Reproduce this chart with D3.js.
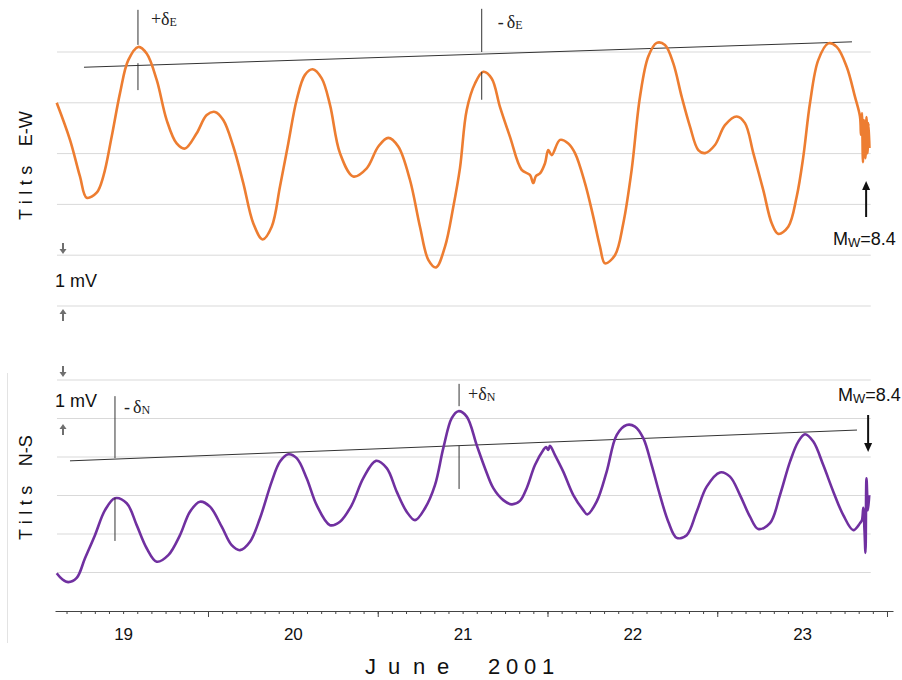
<!DOCTYPE html>
<html>
<head>
<meta charset="utf-8">
<script src="https://cdn.jsdelivr.net/npm/d3@7"></script>
<style>
    body { margin: 0; background: #fff; }
    svg { display: block; font-family: Arial, "Liberation Sans", sans-serif; }
</style>
</head>
<body>
<div id="chart"></div>
<script>
// Time in hours from 19 June 2001 00:00, tilt values in mV
const ewHours = [2.61, 4.49, 5.90, 6.85, 8.26, 9.20, 10.38, 11.56, 12.73, 14.15, 15.33, 16.75, 18.16, 19.57, 20.75,
    22.40, 23.82, 24.99, 26.16, 27.58, 28.99, 30.40, 31.73, 33.01, 34.18, 35.35, 36.54, 37.71, 38.80, 40.08,
    41.25, 42.66, 44.54, 46.44, 48.08, 49.49, 50.90, 52.56, 53.97, 55.15, 56.24, 57.51, 58.68, 59.63, 60.58,
    61.75, 62.92, 64.11, 65.28, 66.70, 68.35, 69.52, 69.99, 70.37, 70.94, 71.65, 72.11, 72.59, 73.77, 74.94,
    75.89, 77.30, 78.47, 79.42, 80.13, 81.54, 82.72, 83.90, 85.08, 86.25, 87.44, 88.61, 89.78, 90.97, 92.15,
    93.32, 94.27, 95.68, 97.09, 98.75, 99.92, 101.10, 102.51, 103.70, 104.63, 106.04, 107.23, 108.17, 109.11,
    110.28, 111.70, 112.89, 114.30, 115.47, 116.18, 116.32, 116.46, 116.60, 116.74, 116.96, 117.10, 117.24,
    117.38, 117.52];
const ewValues = [4.00, 3.27, 2.55, 2.13, 2.23, 2.55, 3.33, 4.19, 4.84, 5.10, 4.97, 4.45, 3.66, 3.20, 3.10,
    3.40, 3.76, 3.82, 3.66, 3.14, 2.42, 1.63, 1.31, 1.56, 2.35, 3.20, 4.06, 4.55, 4.66, 4.48,
    3.96, 3.01, 2.55, 2.71, 3.14, 3.31, 3.14, 2.48, 1.56, 0.91, 0.76, 1.17, 1.95, 2.72, 3.86,
    4.38, 4.61, 4.48, 3.92, 3.33, 2.68, 2.58, 2.42, 2.56, 2.61, 2.81, 3.07, 2.97, 3.27, 3.20,
    3.01, 2.42, 1.76, 1.17, 0.84, 1.00, 1.63, 2.68, 4.12, 4.91, 5.18, 5.14, 4.78, 4.12, 3.53,
    3.07, 3.01, 3.17, 3.56, 3.73, 3.60, 3.01, 2.28, 1.63, 1.42, 1.56, 2.15, 2.94, 3.99,
    4.84, 5.17, 5.10, 4.71, 4.12, 3.73, 3.37, 3.80, 2.83, 3.66, 2.91, 3.72, 3.01,
    3.60, 3.11];

const nsHours = [2.61, 3.36, 4.25, 5.44, 6.61, 8.02, 9.44, 10.85, 12.51, 13.92, 15.33, 16.75, 18.39, 20.04, 21.45,
    22.87, 24.28, 25.94, 27.35, 28.52, 29.94, 31.35, 33.01, 34.18, 35.35, 36.54, 37.95, 39.37, 41.25, 42.66,
    44.32, 45.96, 47.75, 49.27, 50.68, 52.09, 53.27, 54.68, 56.09, 57.27, 58.46, 59.39, 60.58, 61.99, 63.16,
    64.34, 65.75, 66.94, 68.11, 69.06, 70.23, 71.41, 71.79, 72.11, 72.35, 73.06, 74.23, 75.65, 77.06, 77.62,
    78.95, 80.37, 81.78, 83.19, 84.37, 85.54, 86.73, 87.90, 89.08, 90.27, 91.68, 93.09, 94.51, 96.39, 97.80,
    99.22, 100.63, 101.80, 103.46, 104.87, 106.29, 107.46, 108.41, 109.58, 110.99, 112.41, 113.82, 115.23,
    116.18, 116.46, 116.65, 116.82, 116.96, 117.10, 117.31, 117.49];
const nsValues = [0.98, 0.83, 0.75, 0.86, 1.37, 1.97, 2.62, 2.93, 2.80, 2.23, 1.63, 1.28, 1.45, 1.97, 2.58,
    2.84, 2.71, 2.19, 1.71, 1.58, 1.80, 2.41, 3.36, 3.88, 4.07, 3.97, 3.45, 2.75, 2.23, 2.32,
    2.75, 3.45, 3.90, 3.71, 3.10, 2.58, 2.36, 2.67, 3.27, 4.23, 5.01, 5.19, 5.05, 4.31, 3.71,
    3.19, 2.88, 2.77, 2.86, 3.19, 3.79, 4.18, 4.26, 4.18, 4.29, 4.05, 3.62, 3.01, 2.62, 2.51,
    2.84, 3.62, 4.57, 4.83, 4.79, 4.49, 3.79, 3.01, 2.32, 1.90, 1.97, 2.58, 3.23, 3.60, 3.49,
    3.01, 2.45, 2.13, 2.28, 3.01, 3.88, 4.40, 4.59, 4.40, 3.79, 3.10, 2.49, 2.10,
    2.28, 2.36, 2.68, 2.10, 1.51, 3.45, 2.62, 3.01];

// Axis ticks and labels
const dayLabels = ["19", "20", "21", "22", "23"];
const dayNoons = [12, 36, 60, 84, 108];
const dayBreaks = [24, 48, 72, 96, 120];
const minorTicks = d3.range(4, 121, 2);
const titleChars = ["J", "u", "n", "e", "2", "0", "0", "1"];

// Gridline levels (mV) for each panel
const ewGrid = [0, 1, 2, 3, 4, 5];
const nsGrid = [1, 2, 3, 4, 5, 6];

// Envelope lines: [hour, mV] at each end
const ewTrend = [[6.47, 4.70], [115.05, 5.20]];
const nsTrend = [[4.49, 3.90], [115.76, 4.70]];

// delta markers: hour, upper segment, lower segment (mV)
const ewMarkers = [
    { hour: 14.1, upper: [5.83, 5.14], lower: [4.78, 4.25], sign: "+", sub: "E" },
    { hour: 62.7, upper: [5.85, 5.00], lower: [4.61, 4.06], sign: "-", sub: "E" }
];
const nsMarkers = [
    { hour: 10.85, upper: [5.58, 3.97], lower: [2.94, 1.82], sign: "-", sub: "N" },
    { hour: 59.5, upper: [5.90, 5.32], lower: [4.29, 3.17], sign: "+", sub: "N" }
];

const quakeHour = 117.05;

const width = 902, height = 680;
const svg = d3.select("#chart").append("svg")
    .attr("width", width)
    .attr("height", height);

const x = d3.scaleLinear().domain([2.37, 120.85]).range([55, 893]);
const yEW = d3.scaleLinear().domain([0, 5]).range([306, 52]);
const yNS = d3.scaleLinear().domain([0, 6]).range([611, 380]);
const gridSpan = [2.65, 117.7];

function drawPanel(hours, values, y, grid, color, trend) {
    // Gridlines
    svg.append("g").selectAll("line")
        .data(grid)
        .enter()
        .append("line")
        .attr("x1", x(gridSpan[0]))
        .attr("x2", x(gridSpan[1]))
        .attr("y1", d => y(d))
        .attr("y2", d => y(d))
        .attr("stroke", "#d9d9d9")
        .attr("stroke-width", 1);

    // Envelope line
    svg.append("line")
        .attr("x1", x(trend[0][0])).attr("y1", y(trend[0][1]))
        .attr("x2", x(trend[1][0])).attr("y2", y(trend[1][1]))
        .attr("stroke", "#333")
        .attr("stroke-width", 1);

    // Tilt record
    const line = d3.line()
        .x((d, i) => x(hours[i]))
        .y(d => y(d))
        .curve(d3.curveCatmullRom.alpha(0.5));

    svg.append("path")
        .datum(values)
        .attr("fill", "none")
        .attr("stroke", color)
        .attr("stroke-width", 2.6)
        .attr("stroke-linejoin", "round")
        .attr("d", line);
}

function drawMarkers(markers, y, labelAt) {
    markers.forEach((m, i) => {
        [m.upper, m.lower].forEach(seg => {
            svg.append("line")
                .attr("x1", x(m.hour)).attr("x2", x(m.hour))
                .attr("y1", y(seg[0])).attr("y2", y(seg[1]))
                .attr("stroke", "#333")
                .attr("stroke-width", 1);
        });
        const t = svg.append("text")
            .attr("x", x(m.hour) + labelAt[i][0])
            .attr("y", labelAt[i][1])
            .attr("font-family", "'Liberation Serif', 'DejaVu Serif', serif")
            .attr("font-size", 18)
            .attr("fill", "#222");
        t.append("tspan").text(m.sign);
        t.append("tspan").attr("dx", m.sign === "-" ? 3 : 0).text("δ");
        t.append("tspan").attr("font-size", 12).attr("dy", 1).text(m.sub);
    });
}

// small grey arrow used for the 1 mV scale bars
function smallArrow(xp, yTail, yTip) {
    const dir = yTip > yTail ? 1 : -1;
    svg.append("line")
        .attr("x1", xp).attr("x2", xp)
        .attr("y1", yTail).attr("y2", yTip - dir * 3)
        .attr("stroke", "#6f6f6f").attr("stroke-width", 2);
    svg.append("path")
        .attr("d", `M${xp - 3.5},${yTip - dir * 5} L${xp + 3.5},${yTip - dir * 5} L${xp},${yTip} Z`)
        .attr("fill", "#6f6f6f");
}

function quakeArrow(xp, yTail, yTip) {
    const dir = yTip > yTail ? 1 : -1;
    svg.append("line")
        .attr("x1", xp).attr("x2", xp)
        .attr("y1", yTail).attr("y2", yTip - dir * 6)
        .attr("stroke", "#111").attr("stroke-width", 2);
    svg.append("path")
        .attr("d", `M${xp - 4},${yTip - dir * 9} L${xp + 4},${yTip - dir * 9} L${xp},${yTip} Z`)
        .attr("fill", "#111");
}

function mwLabel(xp, yp) {
    const t = svg.append("text")
        .attr("x", xp).attr("y", yp)
        .attr("font-size", 18)
        .attr("fill", "#111");
    t.append("tspan").text("M");
    t.append("tspan").attr("font-size", 13).attr("dy", 2).text("W");
    t.append("tspan").attr("dy", -2).text("=8.4");
}

function mvLabel(yp) {
    svg.append("text")
        .attr("x", 55).attr("y", yp)
        .attr("font-size", 18)
        .attr("fill", "#111")
        .text("1 mV");
}

function sideLabel(xp, yp, word) {
    const t = svg.append("text")
        .attr("transform", `translate(${xp},${yp}) rotate(-90)`)
        .attr("font-size", 18)
        .attr("fill", "#111");
    t.append("tspan").attr("letter-spacing", 5.5).text("Tilts");
    t.append("tspan").attr("dx", 14).text(word);
}

// faint frame line on the left of the lower panel
svg.append("line")
    .attr("x1", 7.5).attr("x2", 7.5)
    .attr("y1", 373).attr("y2", 643)
    .attr("stroke", "#e3e3e3").attr("stroke-width", 1);

drawPanel(ewHours, ewValues, yEW, ewGrid, "#ED7D31", ewTrend);
drawPanel(nsHours, nsValues, yNS, nsGrid, "#7030A0", nsTrend);

drawMarkers(ewMarkers, yEW, [[13, 25], [16, 28]]);
drawMarkers(nsMarkers, yNS, [[9, 413], [9, 400]]);

// X axis: minor ticks every 2 h, longer ticks at midnight, day labels at noon
const axisY = yNS(0);
svg.append("g")
    .attr("transform", `translate(0,${axisY})`)
    .call(d3.axisBottom(x).tickValues(minorTicks).tickSize(3).tickSizeOuter(0).tickFormat(""))
    .call(g => g.selectAll(".domain, .tick line").attr("stroke", "#444"));

svg.append("g")
    .attr("transform", `translate(0,${axisY})`)
    .call(d3.axisBottom(x).tickValues(dayBreaks).tickSize(6).tickSizeOuter(0).tickFormat(""))
    .call(g => g.select(".domain").remove())
    .call(g => g.selectAll(".tick line").attr("stroke", "#444"));

svg.append("g")
    .attr("transform", `translate(0,${axisY})`)
    .call(d3.axisBottom(x).tickValues(dayNoons).tickSize(0).tickPadding(17)
        .tickFormat((d, i) => dayLabels[i]))
    .call(g => g.select(".domain").remove())
    .call(g => g.selectAll("text")
        .attr("font-family", "Arial, 'Liberation Sans', sans-serif")
        .attr("font-size", 17)
        .attr("fill", "#111"));

// Axis title, spaced out letter by letter
const titlePos = [365, 388, 413, 437, 488, 506, 524, 542];
svg.append("text")
    .attr("y", 674)
    .attr("font-size", 22)
    .attr("fill", "#111")
    .selectAll("tspan")
    .data(titleChars)
    .enter()
    .append("tspan")
    .attr("x", (d, i) => titlePos[i])
    .text(d => d);

sideLabel(32, 220, "E-W");
sideLabel(32, 540, "N-S");

// 1 mV scale bars
smallArrow(63, 243, 254);
smallArrow(63, 321, 309);
mvLabel(287);
smallArrow(63, 366, 377);
smallArrow(63, 435, 424);
mvLabel(407);

// Earthquake arrows
quakeArrow(x(quakeHour), 217, 181);
mwLabel(833, 245);
quakeArrow(x(quakeHour) + 2, 415, 452);
mwLabel(838, 401);
</script>
</body>
</html>
